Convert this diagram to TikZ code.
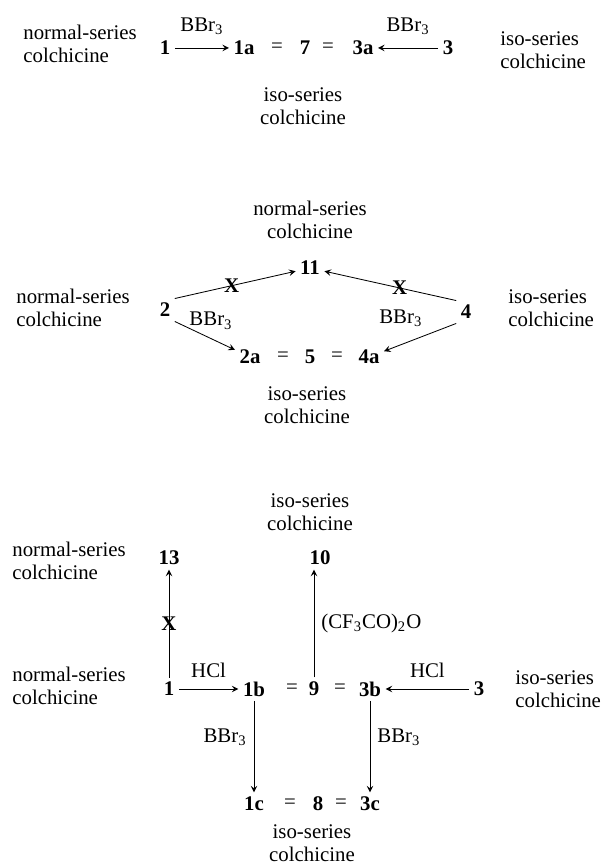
\documentclass[tikz,border=0pt]{standalone}
\usepackage{fontspec}
\setmainfont{Liberation Serif}

\tikzset{
  cpd/.style={font=\bfseries, inner sep=2pt},
  lbl/.style={align=left, font=\fontsize{10}{11}\selectfont},
  xmark/.style={inner sep=0pt, font=\bfseries},
}

\begin{document}
\begin{tikzpicture}[x=0.48pt,y=-0.48pt,thin]
  \useasboundingbox (0,0) rectangle (603,866);
  % scheme 1
  \node[lbl,anchor=west] (ns1) at (16,44) {normal-series\\colchicine};
  \node[cpd] (c1) at (165,48) {1};
  \node[cpd] (c1a) at (244,48) {1a};
  \node (e1) at (277,48) {=};
  \node[cpd] (c7) at (305,48) {7};
  \node (e2) at (328,48) {=};
  \node[cpd] (c3a) at (363,48) {3a};
  \node[cpd] (c3) at (448,48) {3};
  \node[lbl,anchor=west] (is1) at (493,50) {iso-series\\colchicine};
  \node[lbl,align=center] (is2) at (303,106) {iso-series\\colchicine};
  \path[-stealth]
    (c1) edge node[above=3pt] {BBr\textsubscript{3}} (c1a)
    (c3) edge node[above=3pt] {BBr\textsubscript{3}} (c3a);

  % scheme 2
  \node[lbl,align=center] (ns3) at (310,220) {normal-series\\colchicine};
  \node[lbl,anchor=west] (ns2) at (9,308) {normal-series\\colchicine};
  \node[cpd] (c2) at (165,310) {2};
  \node[cpd] (c11) at (310,268) {11};
  \node[cpd] (c4) at (466,312) {4};
  \node[cpd] (c2a) at (250,357) {2a};
  \node (e3) at (283,357) {=};
  \node[cpd] (c5) at (310,357) {5};
  \node (e4) at (337,357) {=};
  \node[cpd] (c4a) at (369,357) {4a};
  \node[lbl,anchor=west] (is3) at (501,308) {iso-series\\colchicine};
  \node[lbl,align=center] (is4) at (307,405) {iso-series\\colchicine};
  \path[-stealth]
    (c2.north east) edge node[pos=0.47,xmark] {X} node[pos=0.3,below=7pt] {BBr\textsubscript{3}} (c11)
    (c4.north west) edge node[pos=0.43,xmark] {X} node[pos=0.42,below=7pt] {BBr\textsubscript{3}} (c11)
    (c2.south east) edge (c2a)
    (c4.south west) edge (c4a);

  % scheme 3
  \node[lbl,align=center] (is5) at (310,512) {iso-series\\colchicine};
  \node[lbl,anchor=west] (ns4) at (5,561) {normal-series\\colchicine};
  \node[cpd] (c13) at (169,558) {13};
  \node[cpd] (c10) at (320,558) {10};
  \node[lbl,anchor=west] (ns5) at (5,686) {normal-series\\colchicine};
  \node[cpd] (c1x) at (169,689) {1};
  \node[cpd] (c1b) at (254,689) {1b};
  \node (e5) at (292,689) {=};
  \node[cpd] (c9) at (314,689) {9};
  \node (e6) at (340,689) {=};
  \node[cpd] (c3b) at (370,689) {3b};
  \node[cpd] (c3x) at (479,689) {3};
  \node[lbl,anchor=west] (is6) at (508,689) {iso-series\\colchicine};
  \node[cpd] (c1c) at (254,804) {1c};
  \node (e7) at (290,804) {=};
  \node[cpd] (c8) at (318,804) {8};
  \node (e8) at (341,804) {=};
  \node[cpd] (c3c) at (370,804) {3c};
  \node[lbl,align=center] (is7) at (312,843) {iso-series\\colchicine};
  \path[-stealth]
    (c1x) edge node[xmark] {X} (c13)
    (c1x) edge node[above=2pt] {HCl} (c1b)
    (c9.north) edge node[right] {(CF\textsubscript{3}CO)\textsubscript{2}O} (c9.north |- c10.south)
    (c3x) edge node[above=2pt] {HCl} (c3b)
    (c1b) edge node[left,pos=0.4] {BBr\textsubscript{3}} (c1c)
    (c3b) edge node[right,pos=0.4] {BBr\textsubscript{3}} (c3c);
\end{tikzpicture}
\end{document}
